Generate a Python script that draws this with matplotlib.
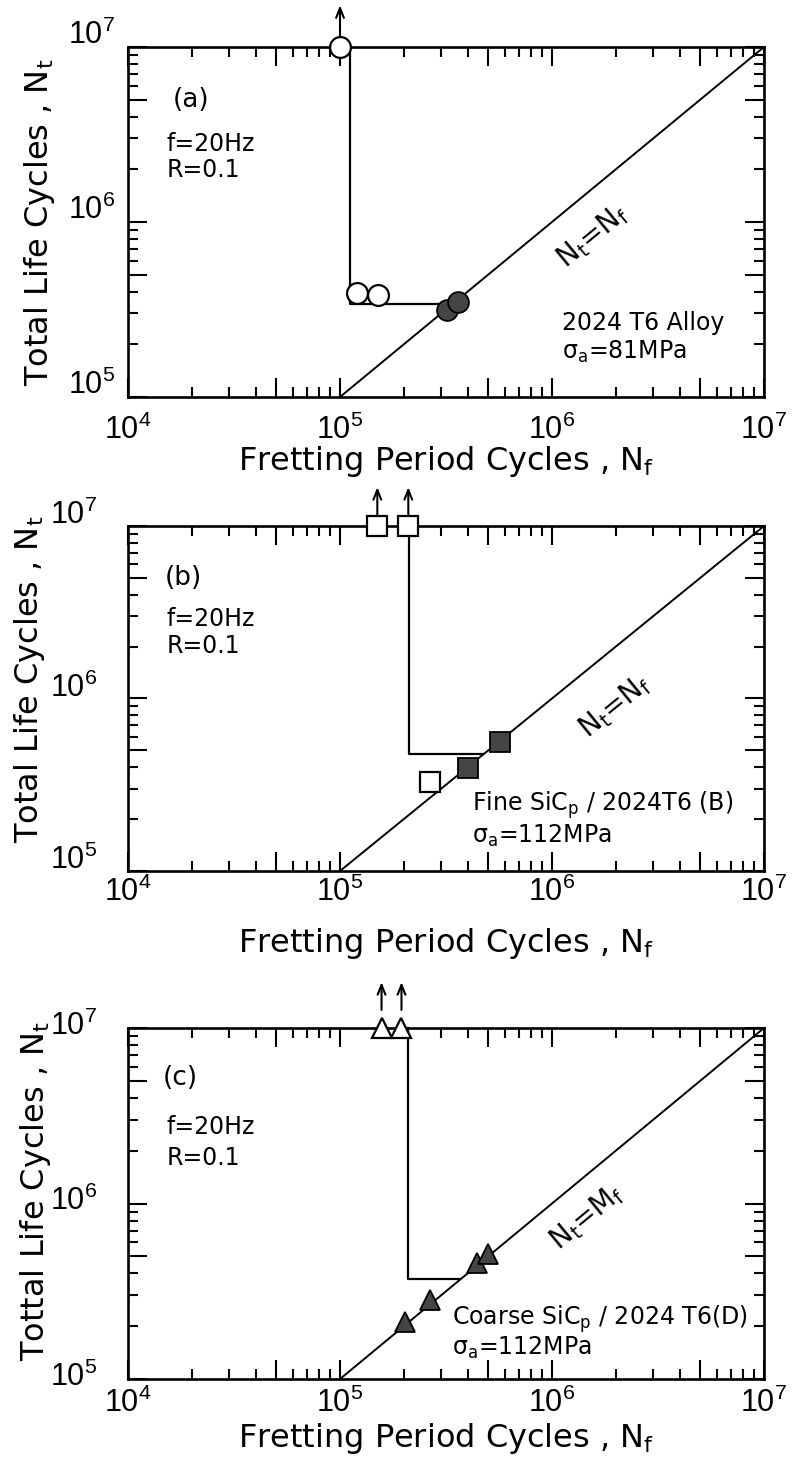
import numpy as np
import matplotlib
matplotlib.use("Agg")
import matplotlib.pyplot as plt
from matplotlib.ticker import LogLocator, FuncFormatter, NullFormatter
from matplotlib.transforms import ScaledTranslation

plt.rcParams['font.family'] = ['DejaVu Sans']
plt.rcParams['mathtext.fontset'] = 'dejavusans'

# --- data ---
DIAG = [1e5, 1e7]          # Nt = Nf line
RUNOUT_Y = 1e7             # run-out (unbroken) level

# (a) 2024 T6 alloy, sigma_a = 81 MPa
a_runout_x = [1.0e5]
a_open_x = [1.2e5, 1.51e5]
a_open_y = [3.92e5, 3.83e5]
a_fill_x = [3.2e5, 3.6e5]
a_fill_y = [3.15e5, 3.5e5]
a_path_x = [1.12e5, 1.12e5, 3.4e5]
a_path_y = [1e7, 3.4e5, 3.4e5]

# (b) Fine SiCp / 2024T6 (B), sigma_a = 112 MPa
b_runout_x = [1.5e5, 2.1e5]
b_open_x = [2.66e5]
b_open_y = [3.27e5]
b_fill_x = [4.03e5, 5.69e5]
b_fill_y = [3.94e5, 5.57e5]
b_path_x = [2.12e5, 2.12e5, 4.75e5]
b_path_y = [1e7, 4.75e5, 4.75e5]

# (c) Coarse SiCp / 2024 T6(D), sigma_a = 112 MPa
c_runout_x = [1.57e5, 1.95e5]
c_open_x = []
c_open_y = []
c_fill_x = [2.03e5, 2.66e5, 4.42e5, 5.0e5]
c_fill_y = [2.12e5, 2.82e5, 4.56e5, 5.15e5]
c_path_x = [2.1e5, 2.1e5, 3.7e5]
c_path_y = [1e7, 3.7e5, 3.7e5]

XLABEL = 'Fretting Period Cycles , N$_{\\mathregular{f}}$'
YLABELS = ['Total Life Cycles , N$_{\\mathregular{t}}$',
           'Total Life Cycles , N$_{\\mathregular{t}}$',
           'Tottal Life Cycles , N$_{\\mathregular{t}}$']
LETTERS = ['(a)', '(b)', '(c)']
CONDITIONS = 'f=20Hz\nR=0.1'
MATERIALS = ['2024 T6 Alloy',
             'Fine SiC$_{\\mathregular{p}}$ / 2024T6 (B)',
             'Coarse SiC$_{\\mathregular{p}}$ / 2024 T6(D)']
STRESSES = ['σ$_{\\mathregular{a}}$=81MPa',
            'σ$_{\\mathregular{a}}$=112MPa',
            'σ$_{\\mathregular{a}}$=112MPa']
DIAG_LABELS = ['N$_{\\mathregular{t}}$=N$_{\\mathregular{f}}$',
               'N$_{\\mathregular{t}}$=N$_{\\mathregular{f}}$',
               'N$_{\\mathregular{t}}$=M$_{\\mathregular{f}}$']


def decade_fmt(v, pos):
    e = int(round(np.log10(v)))
    if abs(v - 10.0**e) > 1e-6 * v:
        return ''
    return r'$\mathregular{10^{%d}}$' % e


fig = plt.figure(figsize=(8, 14.73), dpi=100)

# layout per panel: axes rect, tick pads, label positions, text positions
panels = [
    dict(rect=[0.16, 0.7305, 0.795, 0.2376], xpad=13, ypad=9, ydy=11,
         ylab=(-0.112, 0.5), xlab=-0.135, arrow=(8, 30),
         letter=(0.071, 0.849), cond=(0.061, 0.686, 1.12),
         mat=(0.682, 0.211, 0.129), diag=(0.73, 0.46),
         runout=a_runout_x, ox=a_open_x, oy=a_open_y, fx=a_fill_x, fy=a_fill_y,
         px=a_path_x, py=a_path_y, marker='o', ms=15),
    dict(rect=[0.16, 0.4087, 0.795, 0.2342], xpad=4, ypad=22, ydy=10,
         ylab=(-0.128, 0.555), xlab=-0.16, arrow=(8, 28),
         letter=(0.058, 0.849), cond=(0.061, 0.691, 1.18),
         mat=(0.541, 0.190, 0.101), diag=(0.766, 0.478),
         runout=b_runout_x, ox=b_open_x, oy=b_open_y, fx=b_fill_x, fy=b_fill_y,
         px=b_path_x, py=b_path_y, marker='s', ms=14.5),
    dict(rect=[0.16, 0.0638, 0.795, 0.2383], xpad=6, ypad=22, ydy=4,
         ylab=(-0.118, 0.537), xlab=-0.12, arrow=(13, 33),
         letter=(0.055, 0.858), cond=(0.061, 0.674, 1.38),
         mat=(0.509, 0.170, 0.089), diag=(0.722, 0.462),
         runout=c_runout_x, ox=c_open_x, oy=c_open_y, fx=c_fill_x, fy=c_fill_y,
         px=c_path_x, py=c_path_y, marker='^', ms=14.5),
]

for i, p in enumerate(panels):
    ax = fig.add_axes(p['rect'])
    ax.set_xscale('log')
    ax.set_yscale('log')
    ax.set_xlim(1e4, 1e7)
    ax.set_ylim(1e5, 1e7)

    for axis in (ax.xaxis, ax.yaxis):
        axis.set_major_locator(LogLocator(base=10, subs=(1.0, 5.0)))
        axis.set_major_formatter(FuncFormatter(decade_fmt))
        axis.set_minor_locator(LogLocator(base=10, subs=(2, 3, 4, 6, 7, 8, 9)))
        axis.set_minor_formatter(NullFormatter())
    ax.tick_params(which='both', direction='in', top=True, right=True, width=1.5)
    ax.tick_params(which='major', length=13.5)
    ax.tick_params(which='minor', length=7.5)
    ax.tick_params(axis='x', pad=p['xpad'], labelsize=22,
                   labelfontfamily='Liberation Sans')
    ax.tick_params(axis='y', pad=p['ypad'], labelsize=22,
                   labelfontfamily='Liberation Sans')
    for s in ax.spines.values():
        s.set_linewidth(1.9)

    # shift y tick labels up a little, as in the scan
    shift = ScaledTranslation(0, p['ydy'] / 72, fig.dpi_scale_trans)
    for lbl in ax.get_yticklabels():
        lbl.set_transform(lbl.get_transform() + shift)

    # Nt = Nf line and the fretting-period curve
    ax.plot(DIAG, DIAG, color='black', lw=1.4, zorder=2)
    ax.plot(p['px'], p['py'], color='black', lw=1.6, zorder=2, clip_on=False)

    m = p['marker']
    ms = p['ms']
    ax.plot(p['runout'], [RUNOUT_Y] * len(p['runout']), ls='none', marker=m,
            ms=ms, mfc='white', mec='black', mew=1.6, zorder=4, clip_on=False)
    if p['ox']:
        ax.plot(p['ox'], p['oy'], ls='none', marker=m, ms=ms, mfc='white',
                mec='black', mew=1.6, zorder=4)
    ax.plot(p['fx'], p['fy'], ls='none', marker=m, ms=ms, mfc='#454545',
            mec='black', mew=1.3, zorder=4)

    # run-out arrows
    tail = ax.transData + ScaledTranslation(0, p['arrow'][0] / 72, fig.dpi_scale_trans)
    head = ax.transData + ScaledTranslation(0, p['arrow'][1] / 72, fig.dpi_scale_trans)
    for xr in p['runout']:
        ax.annotate('', xy=(xr, RUNOUT_Y), xycoords=head,
                    xytext=(xr, RUNOUT_Y), textcoords=tail,
                    arrowprops=dict(arrowstyle='->,head_length=0.7,head_width=0.28',
                                    lw=1.5, color='black', shrinkA=0, shrinkB=0),
                    annotation_clip=False)

    # labels
    ax.set_xlabel(XLABEL, fontsize=23)
    ax.xaxis.set_label_coords(0.5, p['xlab'])
    ax.set_ylabel(YLABELS[i], fontsize=23)
    ax.yaxis.set_label_coords(*p['ylab'])

    # annotations
    ax.text(p['letter'][0], p['letter'][1], LETTERS[i], transform=ax.transAxes,
            fontsize=19, ha='left', va='center')
    cx, cy, lsp = p['cond']
    ax.text(cx, cy, CONDITIONS, transform=ax.transAxes, fontsize=17,
            ha='left', va='center', linespacing=lsp)
    mx, my1, my2 = p['mat']
    ax.text(mx, my1, MATERIALS[i], transform=ax.transAxes, fontsize=17,
            ha='left', va='center')
    ax.text(mx, my2, STRESSES[i], transform=ax.transAxes, fontsize=17,
            ha='left', va='center')

    p0 = ax.transData.transform((DIAG[0], DIAG[0]))
    p1 = ax.transData.transform((DIAG[1], DIAG[1]))
    ang = np.degrees(np.arctan2(p1[1] - p0[1], p1[0] - p0[0]))
    ax.text(p['diag'][0], p['diag'][1], DIAG_LABELS[i], transform=ax.transAxes,
            fontsize=20, rotation=ang, ha='center', va='center',
            rotation_mode='anchor')

fig.savefig('out.png', dpi=100)
